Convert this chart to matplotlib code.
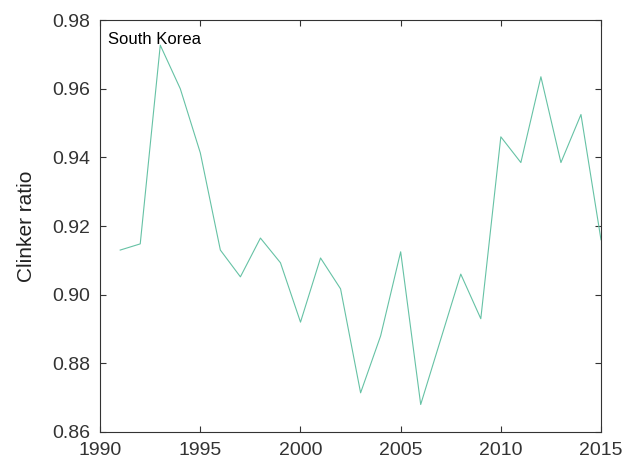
import matplotlib.pyplot as plt

plt.rcParams['font.family'] = ['Liberation Sans', 'DejaVu Sans']

years = list(range(1991, 2016))
clinker = [0.913, 0.9148, 0.9727, 0.960, 0.9413, 0.913, 0.9052, 0.9165, 0.9093, 0.892,
           0.9107, 0.9017, 0.8714, 0.888, 0.9125, 0.868, 0.887, 0.906, 0.893, 0.946,
           0.9385, 0.9635, 0.9385, 0.9525, 0.916]

fig = plt.figure(figsize=(6.38, 4.68), dpi=100)
ax = fig.add_axes([0.157, 0.077, 0.785, 0.88])
ax.plot(years, clinker, color='#66c2a5', lw=0.8)
ax.set_xlim(1990, 2015)
ax.set_ylim(0.86, 0.98)
ax.set_xticks([1990, 1995, 2000, 2005, 2010, 2015])
ax.set_yticks([0.86, 0.88, 0.90, 0.92, 0.94, 0.96, 0.98])
ax.set_yticklabels([f"{v:.2f}" for v in ax.get_yticks()])
ax.tick_params(direction='in', labelsize=14, colors='#333333', length=4, top=True, right=True,
               labeltop=False, labelright=False, pad=7)
for s in ax.spines.values():
    s.set_color('#333333')
    s.set_linewidth(0.8)
ax.set_ylabel("Clinker ratio", fontsize=15, color='#222222', labelpad=12)
ax.text(0.015, 0.97, "South Korea", transform=ax.transAxes, fontsize=12, va='top')
fig.savefig("out.png", dpi=100)
